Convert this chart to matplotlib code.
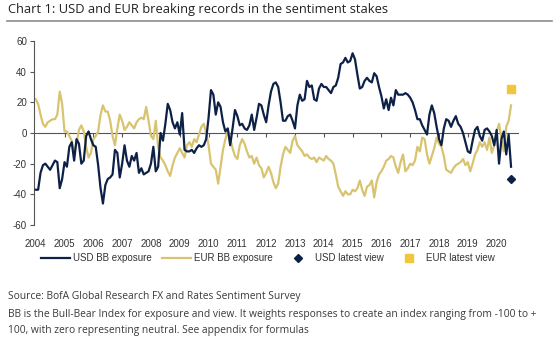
import numpy as np
import matplotlib
matplotlib.use('Agg')
import matplotlib.pyplot as plt
from matplotlib.lines import Line2D

plt.rcParams['axes.unicode_minus'] = False

# Monthly Bull-Bear readings, Jan 2004 .. Jul 2020
usd_bb = [
    -37, -37, -26, -21, -20, -22, -24, -21, -18, -19, -36, -30,   # 2004
    -19, -22, -9, -6, -18, -4, -7, -20, -18, -2, 1, -4,           # 2005
    -8, -9, -21, -36, -46, -34, -30, -29, -27, -11, -13, -29,     # 2006
    -20, -8, -18, -22, -15, -18, -13, -26, -23, -27, -26, -25,    # 2007
    -20, -9, -25, -22, 0, -5, 6, 19, 15, 7, 3, 7,                 # 2008
    -1, 13, -11, -12, -12, -11, -13, -10, -8, -9, -8, -4,         # 2009
    10, 28, 25, 12, 20, 17, 7, 1, 3, -8, 3, 15,                   # 2010
    11, 5, 6, 3, 2, 5, 12, 2, 10, 19, 18, 12,                     # 2011
    7, 18, 27, 32, 33, 30, 20, 8, 8, 11, 12, 8,                   # 2012
    3, 18, 25, 21, 22, 34, 30, 31, 22, 21, 29, 32,                # 2013
    30, 30, 28, 26, 30, 31, 36, 45, 46, 49, 46, 47,               # 2014
    52, 48, 38, 29, 30, 34, 36, 34, 33, 39, 37, 30,               # 2015
    24, 16, 22, 15, 23, 18, 28, 25, 25, 25, 26, 25,               # 2016
    23, 20, 15, 9, 9, 5, 2, -1, 12, 18, 13, 4,                    # 2017
    -4, -8, 3, 9, 8, 4, 8, 11, 6, 4, 0, -6,                       # 2018
    -12, -13, -5, 2, 4, -2, -5, 2, 3, 1, -2, -8,                  # 2019
    2, -20, -4, 1, -14, -1, -22,                                  # 2020
]
eur_bb = [
    22, 19, 12, 6, 4, 7, 8, 9, 9, 12, 27, 19,                     # 2004
    1, 1, -2, -5, -13, -7, 2, 5, 1, -9, -16, -13,                 # 2005
    -4, -2, 1, 12, 18, 14, 14, 8, -2, -8, 3, 12,                  # 2006
    8, 2, 4, 7, 5, 3, 7, 9, 10, 9, 17, 8,                         # 2007
    -2, -4, 8, -9, -16, -18, -21, -25, -28, -21, -16, -13,        # 2008
    -10, -13, -16, -8, -6, -9, -4, -6, -1, 4, 6, 0,               # 2009
    -8, -20, -22, -24, -33, -22, -11, -4, 2, -3, -10, -15,        # 2010
    -17, -8, -4, -7, -12, -16, -15, -20, -16, -21, -23, -29,      # 2011
    -26, -22, -26, -32, -36, -33, -22, -14, -9, -11, -13, -5,     # 2012
    -2, -8, -10, -12, -15, -14, -16, -17, -16, -19, -16, -17,     # 2013
    -18, -15, -17, -18, -20, -27, -35, -38, -41, -38, -40, -40,   # 2014
    -37, -38, -36, -31, -37, -41, -35, -34, -31, -42, -32, -27,   # 2015
    -25, -22, -18, -17, -15, -16, -22, -26, -19, -14, -25, -23,   # 2016
    -20, -21, -18, -9, -12, -3, -4, -14, -20, -15, -10, -3,       # 2017
    -7, -9, -15, -24, -25, -26, -23, -21, -20, -19, -17, -21,     # 2018
    -19, -25, -20, -14, -11, -6, -9, -6, -11, -3, -13, -8,        # 2019
    1, 6, -4, -12, 4, 8, 18,                                      # 2020
]
usd_latest_view = -30
eur_latest_view = 29
years = list(range(2004, 2021))

navy = '#0d2147'
gold = '#d8c470'
gold_mk = '#f0c63a'
text_col = '#333333'

dates = 2004 + np.arange(len(usd_bb)) / 12.0

fig = plt.figure(figsize=(5.6, 3.37), dpi=100)
ax = fig.add_axes([34/560, 1-225/337, (518-34)/560, (225-41)/337])

ax.plot(dates, usd_bb, color=navy, lw=1.6, zorder=3)
ax.plot(dates, eur_bb, color=gold, lw=1.6, zorder=2)
ax.plot(dates[-1], usd_latest_view, marker='D', ms=4.5, color=navy, ls='none', zorder=4)
ax.plot(dates[-1], eur_latest_view, marker='s', ms=5.5, color=gold_mk, ls='none', zorder=4)

ax.set_xlim(2004 - 0.06, 2004 + 200.9/12)
ax.set_ylim(-60, 60)
ax.set_yticks(range(-60, 61, 20))
ax.set_xticks(years)
ax.set_xticklabels([str(y) for y in years])

for s in ['top', 'right', 'bottom']:
    ax.spines[s].set_visible(False)
ax.spines['left'].set_color('#555555')
ax.spines['left'].set_linewidth(0.8)
ax.tick_params(axis='y', direction='out', length=3, width=0.8, color='#555555',
               labelsize=7, labelcolor=text_col, pad=2)
ax.tick_params(axis='x', length=0, labelsize=7, labelcolor=text_col, pad=10)
for lab in ax.get_xticklabels() + ax.get_yticklabels():
    lab.set_family('Liberation Sans')

# zero line with small year ticks hanging below it
zero = ax.secondary_xaxis(0.5)
zero.set_xticks(years[1:], labels=[])
zero.tick_params(direction='in', length=3, width=0.8, color='#555555',
                 labeltop=False, labelbottom=False)
for s in zero.spines.values():
    s.set_color('#555555')
    s.set_linewidth(0.8)

handles = [
    Line2D([], [], color=navy, lw=1.6),
    Line2D([], [], color=gold, lw=1.6),
    Line2D([], [], color=navy, marker='D', ms=4.5, ls='none'),
    Line2D([], [], color=gold_mk, marker='s', ms=5.5, ls='none'),
]
labels = ['USD BB exposure', 'EUR BB exposure', 'USD latest view', 'EUR latest view']
fig.legend(handles, labels, loc='center', bbox_to_anchor=(268/560, 1-258/337), ncol=4,
           frameon=False, handlelength=3.0, handletextpad=0.25, columnspacing=1.1,
           prop={'family': 'Liberation Sans', 'size': 7}, labelcolor=text_col)

fig.text(8/560, 1-10/337, 'Chart 1: USD and EUR breaking records in the sentiment stakes',
         ha='left', va='center', fontsize=9.3, family='Open Sans', color='#222222')
fig.add_artist(Line2D([7/560, 552/560], [1-21/337, 1-21/337], color='#8c8c8c', lw=1.2))

foot = dict(ha='left', va='center', fontsize=7.4, family='Open Sans', color='#3a3a3a')
fig.text(8/560, 1-297/337, 'Source: BofA Global Research FX and Rates Sentiment Survey', **foot)
fig.text(8/560, 1-314/337, 'BB is the Bull-Bear Index for exposure and view. It weights responses '
         'to create an index ranging from -100 to +', **foot)
fig.text(8/560, 1-330/337, '100, with zero representing neutral. See appendix for formulas', **foot)

fig.savefig('out.png', dpi=100)
